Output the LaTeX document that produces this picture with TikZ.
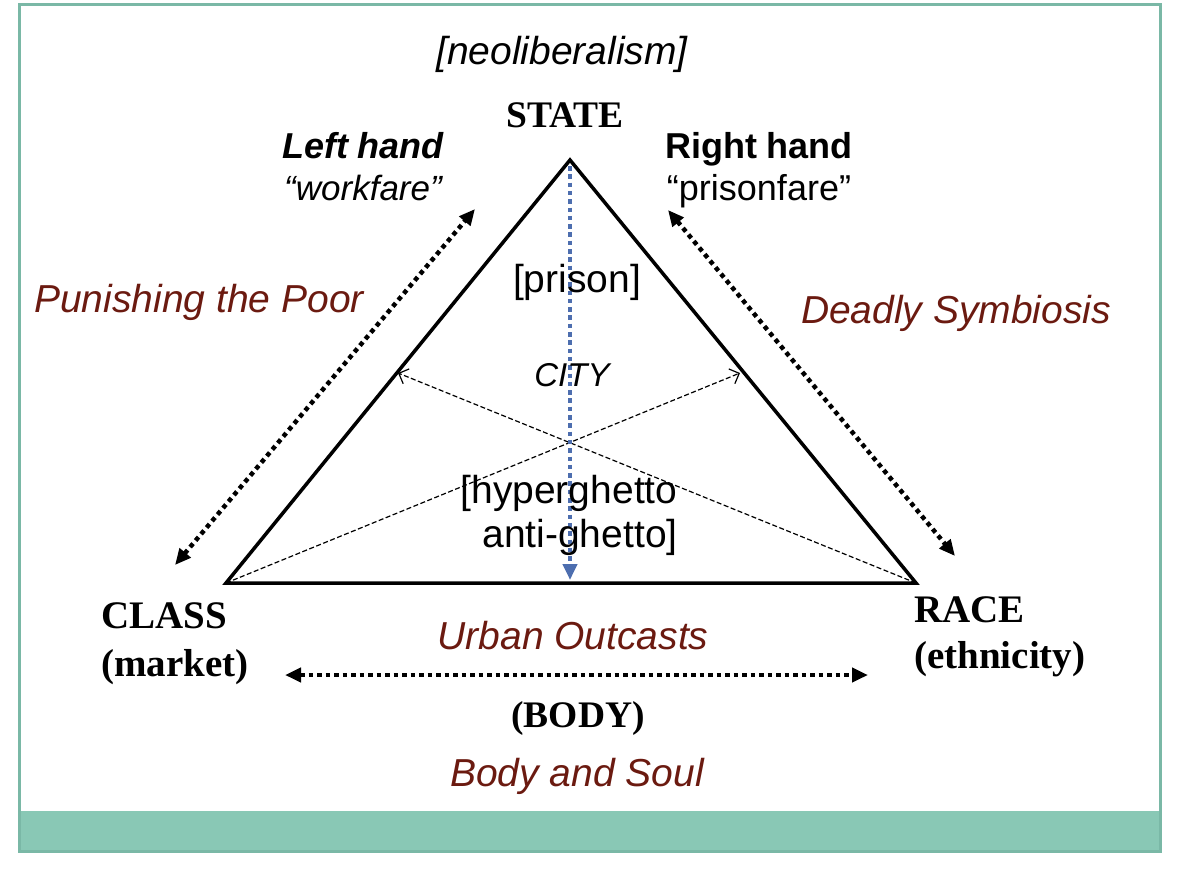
\documentclass[tikz,border=0pt]{standalone}
\usepackage{fontspec}
\setmainfont{Liberation Serif}
\setsansfont{Liberation Sans}
\usetikzlibrary{arrows.meta}
\definecolor{teal1}{HTML}{7AB8A6}
\definecolor{teal2}{HTML}{89C8B5}
\definecolor{dred}{HTML}{6B1A10}
\definecolor{dblue}{HTML}{4D6EAF}
\tikzset{
  sf/.style={font=\sffamily\fontsize{39}{44}\selectfont, inner sep=0pt, anchor=base},
  sfi/.style={font=\sffamily\itshape\fontsize{39}{44}\selectfont, inner sep=0pt, anchor=base},
  redlbl/.style={font=\sffamily\itshape\fontsize{39}{44}\selectfont, text=dred, inner sep=0pt, anchor=base},
  handb/.style={font=\sffamily\bfseries\fontsize{36}{40}\selectfont, inner sep=0pt, anchor=base},
  handbi/.style={font=\sffamily\bfseries\itshape\fontsize{36}{40}\selectfont, inner sep=0pt, anchor=base},
  handi/.style={font=\sffamily\itshape\fontsize{35}{40}\selectfont, inner sep=0pt, anchor=base},
  handr/.style={font=\sffamily\fontsize{36}{40}\selectfont, inner sep=0pt, anchor=base},
  serb/.style={font=\rmfamily\bfseries\fontsize{39}{44}\selectfont, inner sep=0pt, anchor=base west},
  serbc/.style={font=\rmfamily\bfseries\fontsize{37.5}{42}\selectfont, inner sep=0pt, anchor=base},
  tri/.style={line width=3.5pt, line join=miter},
  dotarrow/.style={line width=4.5pt, dash pattern=on 4.5pt off 4pt, {Triangle[length=16pt,width=14pt]}-{Triangle[length=16pt,width=14pt]}},
  bluearrow/.style={line width=4.5pt, draw=dblue, dash pattern=on 4.5pt off 3.8pt, -{Triangle[length=16pt,width=14pt]}},
  thinarrow/.style={line width=1.2pt, dash pattern=on 5pt off 2.5pt, -{Straight Barb[length=8pt,width=16pt,line width=1.2pt]}}
}
\begin{document}
\begin{tikzpicture}[x=1pt,y=-1pt]
\useasboundingbox (0,0) rectangle (1183,871);
\fill[white] (0,0) rectangle (1183,871);
% frame and bottom bar
\fill[teal2] (19.5,811) rectangle (1160,851);
\draw[teal1, line width=3pt] (19.5,4) rectangle (1160,851);
% vertices
\coordinate (S) at (570,160);
\coordinate (C) at (226,583);
\coordinate (R) at (916,583);
\coordinate (Lm) at (398,373);
\coordinate (Rm) at (740,373);
% thin dashed cross arrows
\draw[thinarrow] (C) -- (Rm);
\draw[thinarrow] (R) -- (Lm);
% blue dotted arrow
\coordinate (B1) at (570,166);
\coordinate (B2) at (570,580);
\draw[bluearrow] (B1) -- (B2);
% triangle
\draw[tri] (S) -- (R) -- (C) -- cycle;
% dotted double arrows
\coordinate (a1) at (175,565);
\coordinate (a2) at (475,209);
\coordinate (b1) at (668,210);
\coordinate (b2) at (955,556);
\coordinate (c1) at (285,675);
\coordinate (c2) at (868,675);
\draw[dotarrow] (a1) -- (a2);
\draw[dotarrow] (b1) -- (b2);
\draw[dotarrow] (c1) -- (c2);
% texts
\node[sfi] (neo) at (562,64) {[neoliberalism]};
\node[serbc] (state) at (565,127) {STATE};
\node[handbi] (lh) at (363,158) {Left hand};
\node[handi] (wf) at (363,200) {“workfare”};
\node[handb] (rh) at (759,158) {Right hand};
\node[handr] (pf) at (759,200) {“prisonfare”};
\node[redlbl] (ptp) at (199,312) {Punishing the Poor};
\node[redlbl] (ds) at (956,323) {Deadly Symbiosis};
\node[sf] (prison) at (577,292) {[prison]};
\node[font=\sffamily\itshape\fontsize{33}{37}\selectfont, inner sep=0pt, anchor=base] (city) at (572,386) {CITY};
\node[sf] (hg) at (569,503) {[hyperghetto};
\node[sf] (ag) at (580,547) {anti-ghetto]};
\node[serb] (class) at (101,628) {CLASS};
\node[serb] (market) at (101,676) {(market)};
\node[serb] (race) at (914,622) {RACE};
\node[serb] (eth) at (914,668) {(ethnicity)};
\node[redlbl] (uo) at (573,649) {Urban Outcasts};
\node[serbc] (body) at (578,727) {(BODY)};
\node[redlbl] (bs) at (577,786) {Body and Soul};
\end{tikzpicture}
\end{document}
